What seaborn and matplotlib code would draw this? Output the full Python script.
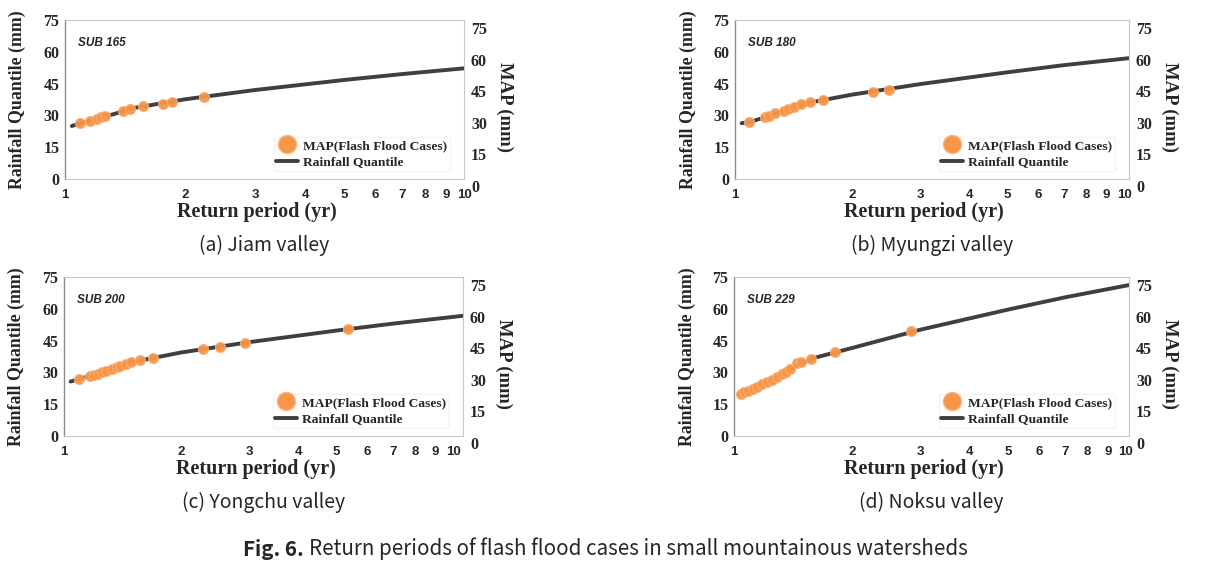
import numpy as np
import pandas as pd
import matplotlib
matplotlib.use('Agg')
import matplotlib.pyplot as plt
from matplotlib.lines import Line2D
import seaborn as sns

# ---------------------------------------------------------------
# Data (return period in years, rainfall in mm)
# ---------------------------------------------------------------
panel_titles = ["(a) Jiam valley", "(b) Myungzi valley", "(c) Yongchu valley", "(d) Noksu valley"]
sub_names = ["SUB 165", "SUB 180", "SUB 200", "SUB 229"]

a_rp_pts = [1.091, 1.152, 1.202, 1.230, 1.257, 1.398, 1.453, 1.570, 1.764, 1.851, 2.225]
a_map_pts = [26.3, 27.5, 28.3, 29.1, 29.6, 31.9, 33.2, 34.3, 35.5, 36.3, 38.5]
a_rp_curve = [1.04, 1.1, 1.25, 1.5, 2, 3, 5, 7, 10]
a_q_curve = [25.0, 26.4, 29.2, 33.6, 37.6, 42.0, 46.7, 49.5, 52.2]

b_rp_pts = [1.084, 1.193, 1.223, 1.268, 1.339, 1.371, 1.421, 1.474, 1.556, 1.680, 2.265, 2.485]
b_map_pts = [26.7, 29.1, 29.9, 31.0, 32.2, 33.0, 34.1, 35.2, 36.2, 37.1, 41.0, 42.0]
b_rp_curve = [1.04, 1.1, 1.25, 1.5, 2, 3, 5, 7, 10.3]
b_q_curve = [26.3, 27.0, 30.4, 35.5, 39.8, 44.8, 50.3, 53.7, 57.0]

c_rp_pts = [1.092, 1.166, 1.194, 1.220, 1.250, 1.283, 1.327, 1.367, 1.394, 1.445,
            1.486, 1.572, 1.692, 2.281, 2.510, 2.926, 5.373]
c_map_pts = [26.9, 28.3, 28.8, 29.4, 30.1, 30.7, 31.7, 32.4, 32.9, 33.9,
             34.8, 35.9, 36.9, 40.9, 41.9, 43.9, 50.4]
c_rp_curve = [1.04, 1.1, 1.25, 1.5, 2, 3, 5, 7, 10.6]
c_q_curve = [25.7, 27.0, 30.0, 34.9, 39.4, 44.3, 49.7, 53.0, 56.7]

d_rp_pts = [1.041, 1.061, 1.086, 1.115, 1.148, 1.177, 1.212, 1.248, 1.285, 1.324,
            1.355, 1.390, 1.451, 1.480, 1.570, 1.806, 2.837]
d_map_pts = [19.8, 20.6, 21.4, 22.4, 23.3, 24.3, 25.4, 26.5, 27.7, 29.1,
             30.2, 31.8, 34.2, 35.0, 36.2, 39.7, 49.3]
d_rp_curve = [1.03, 1.1, 1.2, 1.3, 1.45, 1.6, 2, 3, 5, 7, 10.2]
d_q_curve = [19.5, 22.0, 25.0, 28.2, 33.2, 36.8, 41.5, 50.2, 59.6, 65.4, 71.2]

x_ticks = [1, 2, 3, 4, 5, 6, 7, 8, 9, 10]
y_ticks = [0, 15, 30, 45, 60, 75]

# ---------------------------------------------------------------
sns.set_theme(style="white")
plt.rcParams['font.family'] = ['Liberation Serif', 'DejaVu Serif']

W, H = 1211, 566
fig = plt.figure(figsize=(W / 100, H / 100), dpi=100)
fig.patch.set_facecolor('white')


def px_box(left, top, right, bottom):
    return [left / W, 1 - bottom / H, (right - left) / W, (bottom - top) / H]


# pixel boxes of the four plot areas (left, top, right, bottom) and x max
boxes = [(65, 20, 464, 179), (735, 20, 1129, 179),
         (64, 277, 463, 436), (734, 277, 1129, 436)]
xmaxes = [10.0, 10.3, 10.6, 10.2]

panels = [
    (a_rp_pts, a_map_pts, a_rp_curve, a_q_curve),
    (b_rp_pts, b_map_pts, b_rp_curve, b_q_curve),
    (c_rp_pts, c_map_pts, c_rp_curve, c_q_curve),
    (d_rp_pts, d_map_pts, d_rp_curve, d_q_curve),
]

line_col = '#3F3F3F'
dot_col = '#F79646'
bold_serif = dict(family='Liberation Serif', weight='bold')
cap_font = ['Noto Sans CJK KR', 'Noto Sans', 'DejaVu Sans']

for i, (rp_p, map_p, rp_c, q_c) in enumerate(panels):
    l, t, r, b = boxes[i]
    ax = fig.add_axes(px_box(l, t, r, b))
    curve = pd.DataFrame({"rp": rp_c, "q": q_c})
    pts = pd.DataFrame({"rp": rp_p, "map": map_p})

    sns.lineplot(data=curve, x="rp", y="q", ax=ax, color=line_col, lw=2.8, sort=True)
    sns.scatterplot(data=pts, x="rp", y="map", ax=ax, color=dot_col, s=55,
                    edgecolor='#FBB385', linewidth=0.6, alpha=0.95, zorder=3)

    ax.set_xscale('log')
    ax.set_xlim(1, xmaxes[i])
    ax.set_ylim(0, 75)
    ax.set_xticks(x_ticks)
    ax.set_xticklabels([str(v) for v in x_ticks], family='Liberation Sans',
                       weight='bold', fontsize=9.5)
    ax.xaxis.set_minor_locator(matplotlib.ticker.NullLocator())
    ax.set_yticks(y_ticks)
    ax.set_yticklabels([str(v) for v in y_ticks], fontsize=11.5, **bold_serif)
    ax.tick_params(length=0, pad=4)
    ax.tick_params(axis='x', pad=7)
    for side in ['top', 'right', 'bottom']:
        ax.spines[side].set_color('#C8C8C8')
        ax.spines[side].set_linewidth(0.8)
    ax.spines['left'].set_color('#8C8C8C')
    ax.spines['left'].set_linewidth(1.0)

    ax.set_xlabel("Return period (yr)", fontsize=14.5, **bold_serif)
    ax.xaxis.set_label_coords(0.48, -0.145)
    ax.set_ylabel("Rainfall Quantile (mm)", fontsize=12.8, **bold_serif)
    ax.yaxis.set_label_coords(-0.097, 0.5)

    ax.text(0.033, 0.855, sub_names[i], transform=ax.transAxes, fontsize=8.5,
            family='Liberation Sans', weight='bold', style='italic', va='center')

    handles = [
        Line2D([], [], ls='none', marker='o', markersize=13, color=dot_col,
               markeredgecolor='#FBB385'),
        Line2D([], [], color=line_col, lw=2.8),
    ]
    ax.legend(handles, ["MAP(Flash Flood Cases)", "Rainfall Quantile"],
              loc='lower right', bbox_to_anchor=(0.965, 0.05),
              prop=dict(family='Liberation Serif', weight='bold', size=9.7),
              frameon=True, fancybox=False, edgecolor='#F2F2F2',
              handlelength=1.6, handletextpad=0.4, labelspacing=0.3,
              borderpad=0.2, borderaxespad=0)

    # secondary MAP scale, drawn a few pixels lower as in the source figure
    ax2 = fig.add_axes(px_box(l, t + 8, r, b + 7))
    ax2.patch.set_visible(False)
    for s in ax2.spines.values():
        s.set_visible(False)
    ax2.set_ylim(0, 75)
    ax2.set_xticks([])
    ax2.yaxis.tick_right()
    ax2.yaxis.set_label_position('right')
    ax2.set_yticks(y_ticks)
    ax2.set_yticklabels([str(v) for v in y_ticks], fontsize=11.5, **bold_serif)
    ax2.tick_params(length=0, pad=5)
    ax2.set_ylabel("MAP (mm)", fontsize=13.5, rotation=270, labelpad=19, **bold_serif)

    # caption under each panel
    fig.text((l + r) / 2 / W, 1 - (b + 66) / H, panel_titles[i],
             ha='center', va='center', fontsize=14, family=cap_font)

# figure caption: bold "Fig. 6." followed by plain text
renderer = fig.canvas.get_renderer()
cap_y = 1 - 549 / H
t1 = fig.text(243 / W, cap_y, "Fig. 6.", ha='left', va='center', fontsize=14.8,
              family=cap_font, weight='bold')
bb = t1.get_window_extent(renderer)
fig.text((bb.x1 + 5) / W, cap_y, "Return periods of flash flood cases in small mountainous watersheds",
         ha='left', va='center', fontsize=14.8, family=cap_font)

fig.savefig('out.png', dpi=100, facecolor='white')
